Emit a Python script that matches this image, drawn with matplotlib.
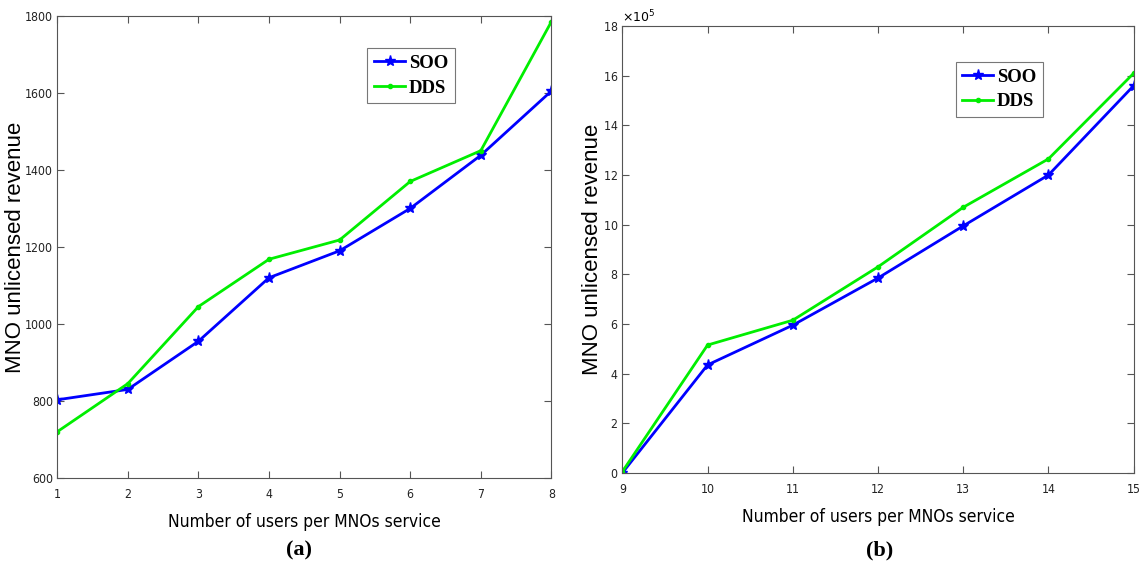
import matplotlib
matplotlib.use("Agg")
import matplotlib.pyplot as plt
from matplotlib.ticker import ScalarFormatter

# panel (a)
users_a = [1, 2, 3, 4, 5, 6, 7, 8]
soo_a = [803, 830, 955, 1120, 1190, 1300, 1438, 1605]
dds_a = [720, 845, 1045, 1168, 1218, 1370, 1450, 1785]

# panel (b)
users_b = [9, 10, 11, 12, 13, 14, 15]
soo_b = [0, 435000, 595000, 785000, 995000, 1200000, 1560000]
dds_b = [5000, 515000, 615000, 830000, 1070000, 1265000, 1610000]

narrow = ['DejaVu Sans']
serif = ['Liberation Serif', 'DejaVu Serif']

fig = plt.figure(figsize=(11.44, 5.67), dpi=100)
ax1 = fig.add_axes([0.050, 0.157, 0.432, 0.815])
ax2 = fig.add_axes([0.544, 0.166, 0.447, 0.788])


def style(ax):
    for s in ax.spines.values():
        s.set_color('#555555')
        s.set_linewidth(0.8)
    ax.tick_params(direction='in', top=True, right=True, length=5,
                   color='#555555', labelsize=8.8)
    ax.tick_params(axis='x', pad=7)
    ax.tick_params(axis='y', pad=3)
    for lab in ax.get_xticklabels() + ax.get_yticklabels():
        lab.set_family(narrow)
        lab.set_stretch('condensed')
        lab.set_color('#222222')


def draw(ax, x, soo, dds, anchor):
    ax.plot(x, soo, color='#0000ff', lw=2, marker='*', ms=8, label='SOO')
    ax.plot(x, dds, color='#00ee00', lw=2, marker='.', ms=6, label='DDS')
    ax.set_xlim(x[0], x[-1])
    ax.set_xticks(x)
    ax.set_ylabel('MNO unlicensed revenue', fontsize=16, family='Liberation Sans')
    ax.set_xlabel('Number of users per MNOs service', fontsize=12.5,
                  family=narrow, fontstretch='condensed')
    leg = ax.legend(loc='upper right', bbox_to_anchor=anchor,
                    prop={'family': serif, 'weight': 'bold', 'size': 13.5},
                    fancybox=False, edgecolor='#555555', handlelength=1.65,
                    handletextpad=0.2, borderpad=0.35, labelspacing=0.4,
                    borderaxespad=0)
    leg.get_frame().set_linewidth(0.8)


draw(ax1, users_a, soo_a, dds_a, (0.804, 0.93))
ax1.set_ylim(600, 1800)
ax1.set_yticks(range(600, 1801, 200))
ax1.yaxis.set_label_coords(-0.064, 0.5)
ax1.xaxis.labelpad = 9
style(ax1)

draw(ax2, users_b, soo_b, dds_b, (0.822, 0.92))
ax2.set_ylim(0, 1800000)
ax2.set_yticks(range(0, 1800001, 200000))
fmt = ScalarFormatter(useMathText=True)
fmt.set_powerlimits((5, 5))
ax2.yaxis.set_major_formatter(fmt)
ax2.yaxis.get_offset_text().set_fontsize(9)
ax2.yaxis.get_offset_text().set_family(narrow)
ax2.yaxis.set_label_coords(-0.038, 0.5)
ax2.xaxis.labelpad = 9
style(ax2)

fig.text(0.261, 0.02, '(a)', ha='center', fontsize=16, weight='bold', family=serif)
fig.text(0.769, 0.02, '(b)', ha='center', fontsize=16, weight='bold', family=serif)

fig.savefig('out.png', dpi=100)
